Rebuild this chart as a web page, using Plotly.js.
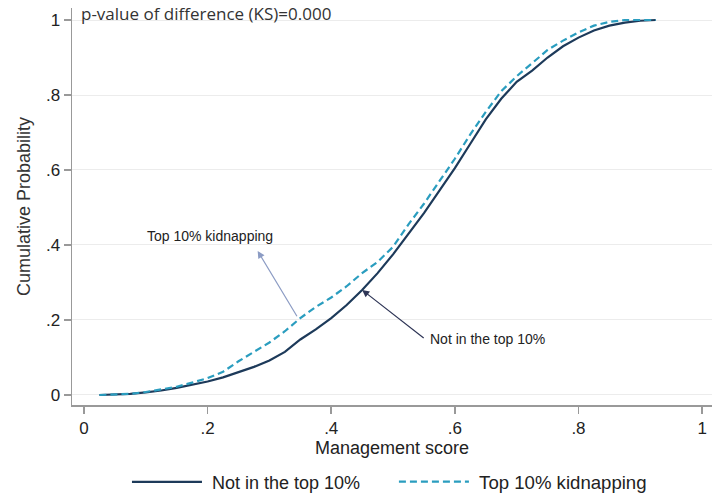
<!DOCTYPE html>
<html>
<head>
<meta charset="utf-8">
<script src="https://cdn.plot.ly/plotly-3.0.1.min.js"></script>
<style>html,body{margin:0;padding:0;background:#fff}#chart{width:712px;height:497px}</style>
</head>
<body>
<div id="chart"></div>
<script>
var scores = [0.025,0.05,0.075,0.1,0.125,0.15,0.175,0.2,0.225,0.25,0.275,0.3,0.325,0.35,0.375,0.4,0.425,0.45,0.475,0.5,0.525,0.55,0.575,0.6,0.625,0.65,0.675,0.7,0.725,0.75,0.775,0.8,0.825,0.85,0.875,0.9,0.925];
var notTop = [0.000,0.001,0.003,0.007,0.012,0.019,0.027,0.036,0.047,0.060,0.075,0.092,0.115,0.148,0.175,0.205,0.240,0.280,0.325,0.375,0.430,0.485,0.545,0.605,0.670,0.735,0.790,0.835,0.865,0.900,0.930,0.953,0.972,0.985,0.993,0.998,1.000];
var topKid = [0.000,0.001,0.003,0.008,0.014,0.022,0.033,0.045,0.062,0.090,0.115,0.140,0.170,0.205,0.235,0.260,0.290,0.325,0.355,0.395,0.455,0.510,0.570,0.630,0.695,0.755,0.810,0.850,0.885,0.920,0.945,0.967,0.985,0.995,1.000,1.000,1.000];
var yTickVals = [0,0.2,0.4,0.6,0.8,1];
var yTickText = ['0','.2','.4','.6','.8','1'];
var xTickVals = [0,0.2,0.4,0.6,0.8,1];
var xTickText = ['0','.2','.4','.6','.8','1'];
var seriesNames = ['Not in the top 10%', 'Top 10% kidnapping'];

var traces = [
  {x: scores, y: notTop, type: 'scatter', mode: 'lines', name: '\u00a0' + seriesNames[0],
   legend: 'legend', line: {color: '#1d3a5a', width: 2.2}},
  {x: scores, y: topKid, type: 'scatter', mode: 'lines', name: '\u00a0' + seriesNames[1],
   legend: 'legend2', line: {color: '#2a9dbf', width: 2.2, dash: '7px,4px'}}
];

var font = 'Liberation Sans, Arial, sans-serif';
var legendBase = {orientation: 'h', xanchor: 'left', yref: 'container', y: 0.03, yanchor: 'middle',
  font: {family: font, size: 18, color: '#222'}, bgcolor: 'rgba(0,0,0,0)'};
var layout = {
  width: 712, height: 497,
  margin: {l: 72, r: 0, t: 8, b: 92},
  paper_bgcolor: '#fff', plot_bgcolor: '#fff',
  showlegend: true,
  legend: Object.assign({}, legendBase, {x: 0.0859, itemwidth: 70}),
  legend2: Object.assign({}, legendBase, {x: 0.503, itemwidth: 70, font: {family: font, size: 18.6, color: '#222'}}),
  xaxis: {range: [-0.0194, 1.016], tickvals: xTickVals, ticktext: xTickText,
          showgrid: false, zeroline: false, showline: true, linecolor: '#999', linewidth: 1.5,
          ticks: 'outside', ticklen: 7, tickcolor: '#999', tickwidth: 1.5,
          tickfont: {family: font, size: 17, color: '#222'},
          title: {text: 'Management score', font: {family: font, size: 18, color: '#222'}, standoff: 0}},
  yaxis: {range: [-0.0267, 1.032], tickvals: yTickVals, ticktext: yTickText,
          showgrid: true, gridcolor: '#ececec', gridwidth: 1, zeroline: false,
          showline: true, linecolor: '#999', linewidth: 1.5,
          ticks: 'outside', ticklen: 7, tickcolor: '#999', tickwidth: 1.5,
          tickfont: {family: font, size: 17, color: '#222'},
          title: {text: 'Cumulative Probability', font: {family: font, size: 18, color: '#333'}, standoff: 10}},
  annotations: [
    {xref: 'paper', yref: 'paper', x: 0.011, y: 1.0202, xanchor: 'left', yanchor: 'top',
     text: 'p-value of difference (KS)=0.000', showarrow: false,
     font: {family: 'Open Sans, sans-serif', size: 17, color: '#333'}},
    {xref: 'x', yref: 'y', x: 0.204, y: 0.425, text: 'Top 10% kidnapping', showarrow: false,
     font: {family: font, size: 14, color: '#222'}},
    {xref: 'x', yref: 'y', x: 0.281, y: 0.384, axref: 'x', ayref: 'y', ax: 0.346, ay: 0.206,
     text: '', showarrow: true, arrowhead: 2, arrowsize: 1.2, arrowwidth: 1.2, arrowcolor: '#8c9cc4'},
    {xref: 'x', yref: 'y', x: 0.652, y: 0.149, text: 'Not in the top 10%', showarrow: false,
     font: {family: font, size: 14, color: '#222'}},
    {xref: 'x', yref: 'y', x: 0.45, y: 0.28, axref: 'x', ayref: 'y', ax: 0.552, ay: 0.149,
     text: '', showarrow: true, arrowhead: 2, arrowsize: 1.2, arrowwidth: 1.2, arrowcolor: '#2e3556'}
  ]
};
Plotly.newPlot('chart', traces, layout, {displayModeBar: false, staticPlot: true});
</script>
</body>
</html>
